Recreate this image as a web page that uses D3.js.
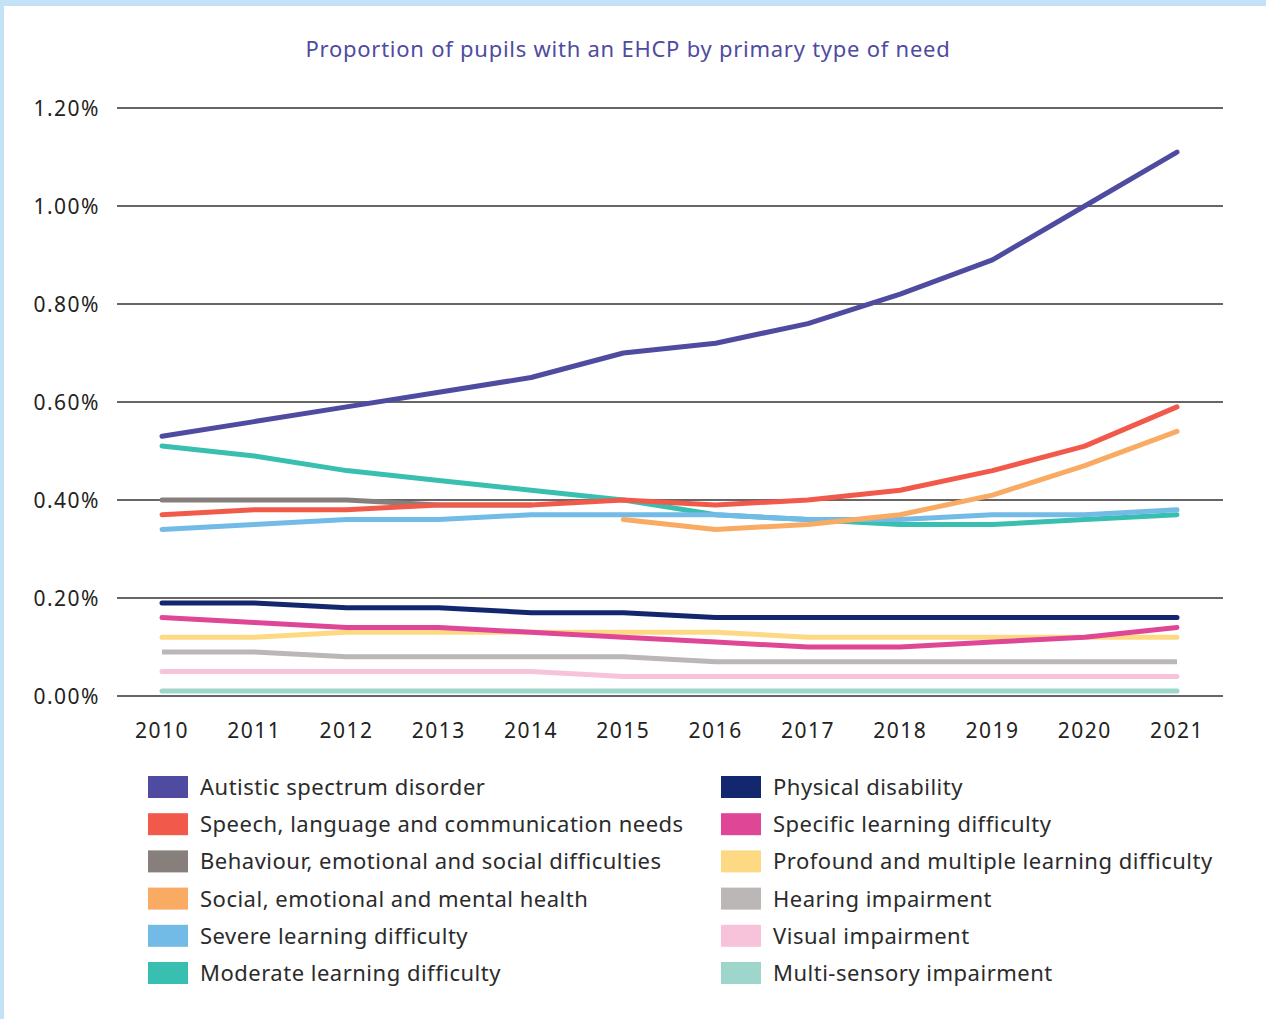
<!DOCTYPE html>
<html>
<head>
<meta charset="utf-8">
<script src="https://cdn.jsdelivr.net/npm/d3@7"></script>
<style>
  body { margin: 0; background: #fff; }
  svg { display: block; }
</style>
</head>
<body>
<script>
// years along the x axis
const years = [2010, 2011, 2012, 2013, 2014, 2015, 2016, 2017, 2018, 2019, 2020, 2021];

// proportions in percent, null where a category was not recorded
const autistic      = [0.53, 0.56, 0.59, 0.62, 0.65, 0.70, 0.72, 0.76, 0.82, 0.89, 1.00, 1.11];
const speech        = [0.37, 0.38, 0.38, 0.39, 0.39, 0.40, 0.39, 0.40, 0.42, 0.46, 0.51, 0.59];
const behaviour     = [0.40, 0.40, 0.40, 0.39, 0.39, null, null, null, null, null, null, null];
const socialMental  = [null, null, null, null, null, 0.36, 0.34, 0.35, 0.37, 0.41, 0.47, 0.54];
const severe        = [0.34, 0.35, 0.36, 0.36, 0.37, 0.37, 0.37, 0.36, 0.36, 0.37, 0.37, 0.38];
const moderate      = [0.51, 0.49, 0.46, 0.44, 0.42, 0.40, 0.37, 0.36, 0.35, 0.35, 0.36, 0.37];
const physical      = [0.19, 0.19, 0.18, 0.18, 0.17, 0.17, 0.16, 0.16, 0.16, 0.16, 0.16, 0.16];
const specific      = [0.16, 0.15, 0.14, 0.14, 0.13, 0.12, 0.11, 0.10, 0.10, 0.11, 0.12, 0.14];
const profound      = [0.12, 0.12, 0.13, 0.13, 0.13, 0.13, 0.13, 0.12, 0.12, 0.12, 0.12, 0.12];
const hearing       = [0.09, 0.09, 0.08, 0.08, 0.08, 0.08, 0.07, 0.07, 0.07, 0.07, 0.07, 0.07];
const visual        = [0.05, 0.05, 0.05, 0.05, 0.05, 0.04, 0.04, 0.04, 0.04, 0.04, 0.04, 0.04];
const multiSensory  = [0.01, 0.01, 0.01, 0.01, 0.01, 0.01, 0.01, 0.01, 0.01, 0.01, 0.01, 0.01];

const names = [
    "Autistic spectrum disorder",
    "Speech, language and communication needs",
    "Behaviour, emotional and social difficulties",
    "Social, emotional and mental health",
    "Severe learning difficulty",
    "Moderate learning difficulty",
    "Physical disability",
    "Specific learning difficulty",
    "Profound and multiple learning difficulty",
    "Hearing impairment",
    "Visual impairment",
    "Multi-sensory impairment"
];
const colors = ["#4f4ba0", "#f15a4b", "#877f7b", "#f9aa63", "#72bbe6", "#39bfb0",
                "#13276f", "#e04696", "#fed984", "#bbb7b6", "#f6c3db", "#9ed6cb"];
const yTicks = [0, 0.2, 0.4, 0.6, 0.8, 1.0, 1.2];

const seriesValues = [autistic, speech, behaviour, socialMental, severe, moderate,
                      physical, specific, profound, hearing, visual, multiSensory];
const series = names.map((name, i) => ({ name: name, color: colors[i], values: seriesValues[i] }));

const width = 1266, height = 1019;
const font = "'Noto Sans', sans-serif";

const svg = d3.select("body").append("svg")
    .attr("width", width)
    .attr("height", height);

// light blue frame along the top and left
svg.append("rect").attr("x", 0).attr("y", 0).attr("width", width).attr("height", 6).attr("fill", "#c4e2f6");
svg.append("rect").attr("x", 0).attr("y", 0).attr("width", 4).attr("height", height).attr("fill", "#c4e2f6");

svg.append("text")
    .attr("x", 628)
    .attr("y", 57)
    .attr("text-anchor", "middle")
    .attr("fill", "#4f4ba0")
    .style("font-family", font)
    .style("font-size", "22px")
    .style("letter-spacing", "0.75px")
    .text("Proportion of pupils with an EHCP by primary type of need");

const x = d3.scalePoint()
    .domain(years)
    .range([162, 1177]);

const y = d3.scaleLinear()
    .domain([0, 1.2])
    .range([696, 108]);

// gridlines
svg.append("g")
    .selectAll("line")
    .data(yTicks)
    .enter()
    .append("line")
    .attr("x1", 117)
    .attr("x2", 1223)
    .attr("y1", d => y(d))
    .attr("y2", d => y(d))
    .attr("stroke", "#333")
    .attr("stroke-width", 1.3);

// y labels
svg.append("g")
    .selectAll("text")
    .data(yTicks)
    .enter()
    .append("text")
    .attr("x", 100)
    .attr("y", d => y(d) + 8)
    .attr("text-anchor", "end")
    .attr("fill", "#222")
    .style("font-family", font)
    .style("font-size", "21px")
    .style("letter-spacing", "1.5px")
    .text(d => d.toFixed(2) + "%");

// x labels
svg.append("g")
    .selectAll("text")
    .data(years)
    .enter()
    .append("text")
    .attr("x", d => x(d))
    .attr("y", 738)
    .attr("text-anchor", "middle")
    .attr("fill", "#222")
    .style("font-family", font)
    .style("font-size", "21px")
    .style("letter-spacing", "1.5px")
    .text(d => d);

const line = d3.line()
    .defined(d => d != null)
    .x((d, i) => x(years[i]))
    .y(d => y(d));

// draw from the bottom of the legend up so the big lines sit on top
const drawOrder = [11, 10, 9, 8, 7, 6, 2, 5, 4, 3, 1, 0];

svg.append("g")
    .attr("fill", "none")
    .selectAll("path")
    .data(drawOrder.map(i => series[i]))
    .enter()
    .append("path")
    .attr("d", d => line(d.values))
    .attr("stroke", d => d.color)
    .attr("stroke-width", 5)
    .attr("stroke-linecap", d => d.name == "Hearing impairment" ? "butt" : "round")
    .attr("stroke-linejoin", "round");

// legend in two columns of six
const legend = svg.append("g")
    .selectAll("g")
    .data(series)
    .enter()
    .append("g")
    .attr("transform", (d, i) => {
        const col = Math.floor(i / 6);
        const row = i % 6;
        return "translate(" + (col == 0 ? 148 : 721) + "," + (776 + row * 37.2) + ")";
    });

legend.append("rect")
    .attr("width", 40)
    .attr("height", 22)
    .attr("fill", d => d.color);

legend.append("text")
    .attr("x", 52)
    .attr("y", 19)
    .attr("fill", "#2b2b2b")
    .style("font-family", font)
    .style("font-size", "22px")
    .style("letter-spacing", "0.5px")
    .text(d => d.name);
</script>
</body>
</html>
